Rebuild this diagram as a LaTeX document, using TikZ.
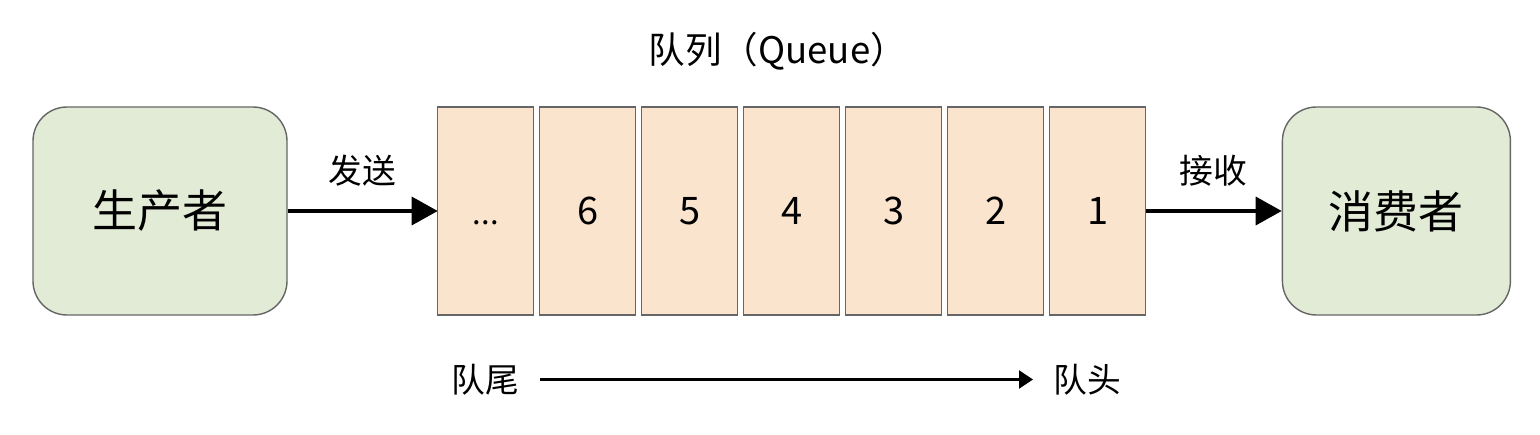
\documentclass[tikz,border=0pt]{standalone}
\usepackage{fontspec}
\setmainfont{Noto Sans CJK SC}
\usetikzlibrary{arrows.meta,positioning}
\definecolor{agentfill}{HTML}{E2EBD6}
\definecolor{cellfill}{HTML}{FAE4CE}
\definecolor{edgegray}{HTML}{666666}

\begin{document}
\begin{tikzpicture}[
  node distance=1.5mm,
  agent/.style={draw=edgegray,fill=agentfill,line width=1pt,rounded corners=8.5mm,minimum height=52mm,font=\fontsize{32}{34}\selectfont},
  cell/.style={draw=edgegray,fill=cellfill,line width=1pt,minimum width=24mm,minimum height=52mm,outer sep=0pt,font=\fontsize{27}{29}\selectfont},
  lbl/.style={font=\fontsize{24}{26}\selectfont},
  flow/.style={-{Triangle[length=6.5mm,width=7mm]},line width=2.5pt},
  order/.style={-{Triangle[length=3.5mm,width=4.5mm]},line width=1.7pt}
]
\useasboundingbox (0,0) rectangle (385mm,108.5mm);

% Producer
\node[agent,minimum width=63.5mm] (prod) at (40mm,55.75mm) {生产者};

% Queue cells
\node[cell,right=37.5mm of prod] (q1) {\vphantom{6}{\fontsize{22}{24}\selectfont...}};
\node[cell,right=of q1] (q2) {6};
\node[cell,right=of q2] (q3) {5};
\node[cell,right=of q3] (q4) {4};
\node[cell,right=of q4] (q5) {3};
\node[cell,right=of q5] (q6) {2};
\node[cell,right=of q6] (q7) {1};
\node[lbl,font=\fontsize{26}{28}\selectfont,above=8mm of q4,xshift=-3.5mm] (title) {队列（Queue）};

% Consumer
\node[agent,minimum width=57mm,right=34mm of q7] (cons) {消费者};

\draw[flow] (prod) -- node[lbl,above=4.5mm] (send) {发送} (q1);
\draw[flow] (q7) -- node[lbl,above=4.5mm] (recv) {接收} (cons);

% Tail to head
\node[lbl,below=11mm of q1] (tail) {队尾};
\node[lbl,below=11mm of q7,xshift=-2.5mm] (head) {队头};
\draw[order,shorten <=4mm,shorten >=4mm] (tail) -- (head);
\end{tikzpicture}
\end{document}
